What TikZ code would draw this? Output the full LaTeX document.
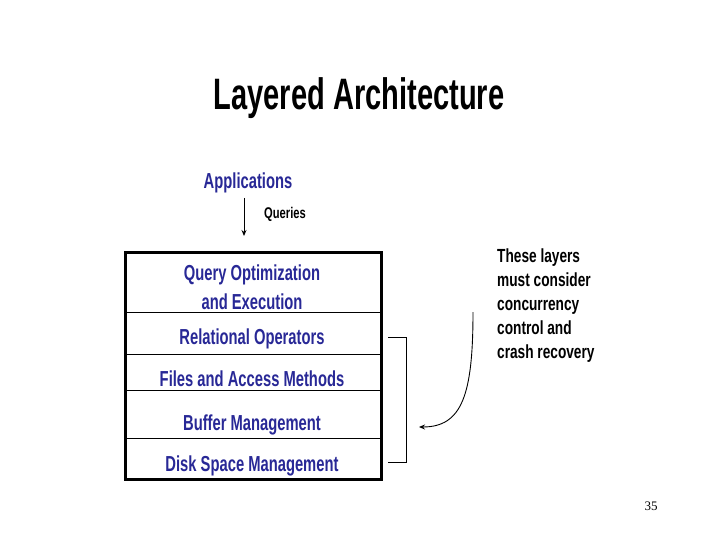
\documentclass[tikz,border=0pt]{standalone}
\usepackage{fontspec}
\setmainfont{Liberation Sans}
\newfontfamily\imp[FakeStretch=0.68]{Liberation Sans}
\newfontfamily\impnote[FakeStretch=0.72]{Liberation Sans}
\newfontfamily\imptitle[FakeStretch=0.66]{Liberation Sans}
\newfontfamily\serifnum{Liberation Serif}
\usetikzlibrary{arrows.meta}
\definecolor{layerblue}{RGB}{40,40,150}
\tikzset{
  title/.style={font=\imptitle\bfseries\fontsize{44}{48}\selectfont, text=black, inner sep=0},
  layer/.style={font=\imp\bfseries\fontsize{21.7}{29}\selectfont, text=layerblue, inner sep=0, align=center},
  note/.style={font=\impnote\bfseries\fontsize{19}{24}\selectfont, text=black, inner sep=0, align=left},
  small/.style={font=\impnote\bfseries\fontsize{15.5}{17}\selectfont, text=black, inner sep=0},
  sep/.style={line width=0.9pt, black},
  conn/.style={line width=0.9pt, black},
}
\begin{document}
\begin{tikzpicture}[x=1pt,y=-1pt]
\useasboundingbox (0,0) rectangle (720,540);
\node[title] (t) at (359,98) {Layered Architecture};
\node[layer] (app) at (248,183) {Applications};
\coordinate (qa) at (244,198);
\coordinate (qb) at (244,236);
\draw[conn,-{Stealth[length=6pt,width=5pt]}] (qa) -- (qb);
\node[small] (q) at (285,214) {Queries};
% big box
\node[draw, line width=3pt, minimum width=256pt, minimum height=227pt, inner sep=0] (box) at (253,366) {};
\coordinate (l1a) at (125,312); \coordinate (l1b) at (381,312);
\coordinate (l2a) at (125,354); \coordinate (l2b) at (381,354);
\coordinate (l3a) at (125,390); \coordinate (l3b) at (381,390);
\coordinate (l4a) at (125,438); \coordinate (l4b) at (381,438);
\draw[sep] (l1a) -- (l1b);
\draw[sep] (l2a) -- (l2b);
\draw[sep] (l3a) -- (l3b);
\draw[sep] (l4a) -- (l4b);
\node[layer] (qo) at (252,287.5) {Query Optimization\\and Execution};
\node[layer] (ro) at (252,339) {Relational Operators};
\node[layer] (fa) at (252,379) {Files and Access Methods};
\node[layer] (bm) at (252,425) {Buffer Management};
\node[layer] (ds) at (252,466) {Disk Space Management};
% bracket
\coordinate (b1) at (388,337); \coordinate (b2) at (406,337);
\coordinate (b3) at (406,462); \coordinate (b4) at (388,462);
\draw[conn] (b1) -- (b2) -- (b3) -- (b4);
% note
\node[note, anchor=north west] (n) at (497,249) {These layers\\must consider\\concurrency\\control and\\crash recovery};
\coordinate (ca) at (473,312);
\coordinate (cb) at (419,427);
\draw[conn,-{Stealth[length=6pt,width=5pt]}] (ca) .. controls (473,395) and (462,427) .. (cb);
\node[font=\serifnum\fontsize{13}{15}\selectfont, inner sep=0] (pg) at (651,506) {35};
\end{tikzpicture}
\end{document}
